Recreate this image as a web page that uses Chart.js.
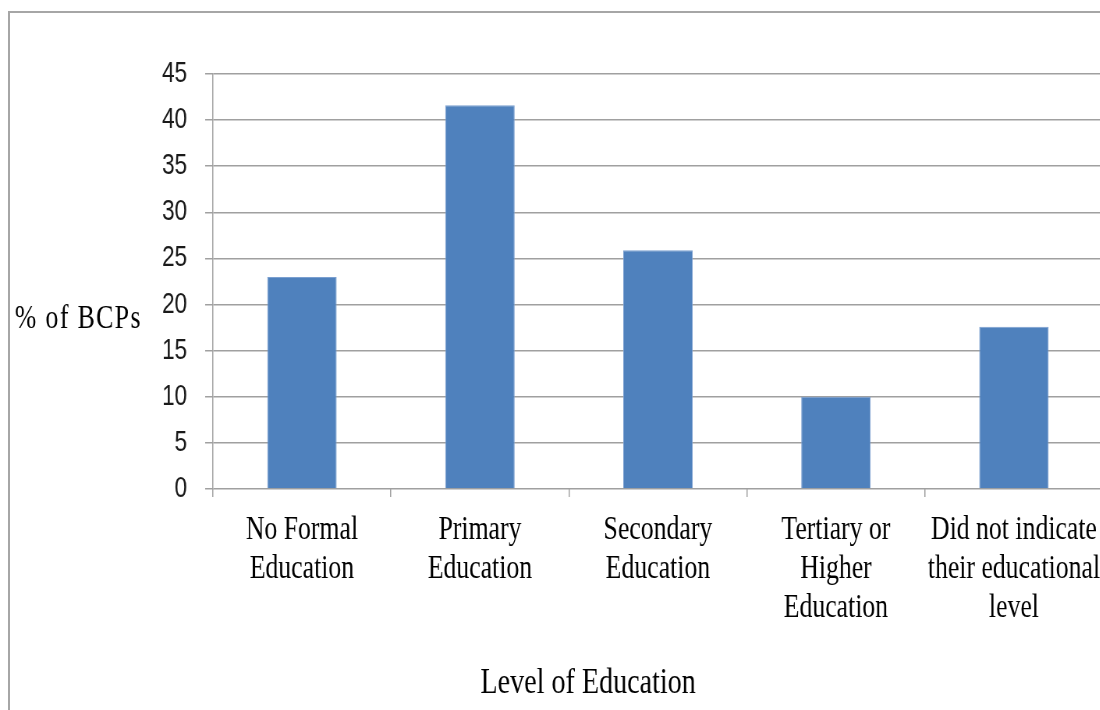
<!DOCTYPE html>
<html>
<head>
<meta charset="utf-8">
<script src="https://cdn.jsdelivr.net/npm/chart.js@4.4.1/dist/chart.umd.min.js"></script>
<style>
    html, body { margin: 0; padding: 0; background: #fff; overflow: hidden; width: 1100px; height: 710px; }
    #frame { position: absolute; left: 8px; top: 11px; width: 1200px; height: 800px;
             border-left: 2px solid #a6a6a6; border-top: 2px solid #a6a6a6; }
    /* the original is horizontally squeezed, so draw wide and squeeze the canvas */
    #chart { position: absolute; left: 0; top: 0; transform: scaleX(0.78); transform-origin: 0 0; }
</style>
</head>
<body>
<div id="frame"></div>
<canvas id="chart" width="1420" height="710"></canvas>
<script>
const categories = [
    ["No Formal", "Education"],
    ["Primary", "Education"],
    ["Secondary", "Education"],
    ["Tertiary or", "Higher", "Education"],
    ["Did not indicate", "their educational", "level"]
];
const percentBCPs = [23.0, 41.6, 25.9, 10.0, 17.6];
const yTitle = "% of BCPs";
const xTitle = "Level of Education";

const serif = "'Liberation Serif', 'Times New Roman', serif";
const sans = "'Liberation Sans', Arial, sans-serif";

const axisTitles = {
    id: "axisTitles",
    afterDraw(chart) {
        const ctx = chart.ctx;
        ctx.save();
        ctx.fillStyle = "#000";
        ctx.textBaseline = "alphabetic";
        ctx.font = "33px " + serif;
        ctx.letterSpacing = "1.8px";
        ctx.textAlign = "left";
        ctx.fillText(yTitle, 19, 328);
        ctx.letterSpacing = "0px";
        ctx.font = "36px " + serif;
        ctx.textAlign = "center";
        ctx.fillText(xTitle, 754, 693);
        ctx.restore();
    }
};

new Chart(document.getElementById("chart"), {
    type: "bar",
    data: {
        labels: categories,
        datasets: [{
            label: yTitle,
            data: percentBCPs,
            backgroundColor: "#4f81bd",
            borderColor: "#7a9fd0",
            borderWidth: 1,
            barPercentage: 0.39,
            categoryPercentage: 1
        }]
    },
    options: {
        responsive: false,
        animation: false,
        layout: { padding: { top: 74, right: 6, bottom: 0, left: 0 } },
        plugins: { legend: { display: false }, tooltip: { enabled: false } },
        scales: {
            x: {
                grid: { display: true, drawOnChartArea: false, color: "#a0a0a0", lineWidth: 1.5, tickLength: 8 },
                border: { display: false },
                ticks: { color: "#000", font: { family: serif, size: 33, lineHeight: 1.18 }, padding: 14, maxRotation: 0, autoSkip: false },
                afterFit(scale) { scale.height = 221; scale.paddingRight = 0; }
            },
            y: {
                min: 0,
                max: 45,
                ticks: { stepSize: 5, color: "#1a1a1a", font: { family: sans, size: 29 }, padding: 23 },
                grid: { color: "#a0a0a0", lineWidth: 1.5, tickLength: 10 },
                border: { color: "#a0a0a0", width: 1.5 },
                afterFit(scale) { scale.width = 273; }
            }
        }
    },
    plugins: [axisTitles]
});
</script>
</body>
</html>
